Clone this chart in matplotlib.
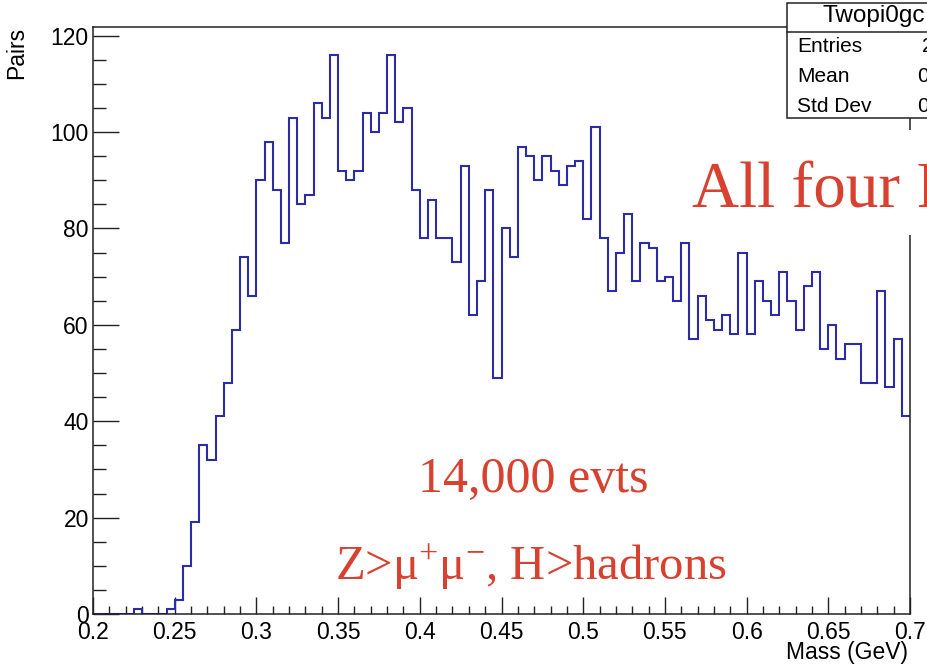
import numpy as np
import matplotlib
matplotlib.use("Agg")
import matplotlib.pyplot as plt
from matplotlib.patches import Rectangle
from matplotlib.lines import Line2D
from matplotlib.ticker import MultipleLocator

plt.rcParams['font.family'] = ['Liberation Sans', 'DejaVu Sans']
plt.rcParams['mathtext.fontset'] = 'custom'
plt.rcParams['mathtext.rm'] = 'Liberation Serif'
plt.rcParams['mathtext.default'] = 'regular'

# ---- data ----
mass_min, mass_max = 0.2, 0.7
pair_counts = [0, 0, 0, 0, 0, 1, 0, 0, 0, 1,
               3, 10, 19, 35, 32, 41, 48, 59, 74, 66,
               90, 98, 88, 77, 103, 85, 87, 106, 103, 116,
               92, 90, 92, 104, 100, 104, 116, 102, 105, 88,
               78, 86, 78, 78, 73, 93, 62, 69, 88, 49,
               80, 74, 97, 95, 90, 95, 92, 89, 93, 94,
               82, 101, 78, 67, 75, 83, 69, 77, 76, 69,
               70, 65, 77, 57, 66, 61, 59, 62, 58, 75,
               58, 69, 65, 62, 71, 65, 59, 68, 71, 55,
               60, 53, 56, 56, 48, 48, 67, 47, 57, 41]
x_ticks = [0.2, 0.25, 0.3, 0.35, 0.4, 0.45, 0.5, 0.55, 0.6, 0.65, 0.7]
x_tick_labels = ['0.2', '0.25', '0.3', '0.35', '0.4', '0.45', '0.5', '0.55', '0.6', '0.65', '0.7']
y_ticks = [0, 20, 40, 60, 80, 100, 120]
stat_names = ['Entries', 'Mean', 'Std Dev']
stat_values = ['2', '0.', '0.']

W, H = 928, 667
fig = plt.figure(figsize=(W / 100, H / 100), dpi=100)
fig.patch.set_facecolor('white')

def fx(px):
    return px / W

def fy(py):
    return 1 - py / H

ax_l, ax_r, ax_t, ax_b = 93, 910, 27, 614
ax = fig.add_axes([fx(ax_l), fy(ax_b), fx(ax_r) - fx(ax_l), fy(ax_t) - fy(ax_b)])

edges = np.linspace(mass_min, mass_max, len(pair_counts) + 1)
ax.stairs(pair_counts, edges, color='#2c2ca6', linewidth=1.5, baseline=None, zorder=2)

ax.set_xlim(mass_min, mass_max)
ax.set_ylim(0, max(pair_counts) * 1.05)
ax.set_xticks(x_ticks)
ax.set_xticklabels(x_tick_labels)
ax.set_yticks(y_ticks)
ax.xaxis.set_minor_locator(MultipleLocator(0.01))
ax.yaxis.set_minor_locator(MultipleLocator(5))

ax.tick_params(axis='x', which='major', direction='in', length=12.2, width=1.0, pad=5,
               labelsize=16.5, color='#222222')
ax.tick_params(axis='x', which='minor', direction='in', length=5.8, width=1.0, color='#222222')
ax.tick_params(axis='y', which='major', direction='in', length=18.7, width=1.0, pad=3,
               labelsize=16.5, color='#222222')
ax.tick_params(axis='y', which='minor', direction='in', length=9.4, width=1.0, color='#222222')
for s in ax.spines.values():
    s.set_linewidth(1.1)
    s.set_color('#222222')

# axis titles
fig.text(fx(908), fy(652), 'Mass (GeV)', ha='right', va='center', fontsize=16.5)
fig.text(fx(17), fy(27), 'Pairs', ha='center', va='top', rotation=90, fontsize=16.5)

# stats box
bx0, by0, by1, bsep = 786.7, 2.7, 118, 32
fig.patches.append(Rectangle((fx(bx0), fy(by1)), 1.2, fy(by0) - fy(by1), transform=fig.transFigure,
                             facecolor='white', edgecolor='#222222', linewidth=1.1, zorder=5))
fig.lines.append(Line2D([fx(bx0), 1.2], [fy(bsep), fy(bsep)], transform=fig.transFigure,
                        color='#222222', linewidth=1.1, zorder=6))
fig.text(fx(823), fy(16), 'Twopi0gc', ha='left', va='center', fontsize=17.5, zorder=7)
for i, (n, v) in enumerate(zip(stat_names, stat_values)):
    yy = [47, 77, 106][i]
    fig.text(fx(797), fy(yy), n, ha='left', va='center', fontsize=15, zorder=7)
    fig.text(fx(922 if i == 0 else 917), fy(yy), v, ha='left', va='center', fontsize=15, zorder=7)

red = '#d8412f'
# white panel behind the big label (hides the frame there)
fig.patches.append(Rectangle((fx(688), fy(235)), 1.0, fy(130) - fy(235), transform=fig.transFigure,
                             facecolor='white', edgecolor='none', zorder=6))
fig.text(fx(692), fy(208), 'All four Photons', ha='left', va='baseline', fontsize=47,
         family='Liberation Serif', color=red, zorder=7)
fig.text(fx(418), fy(492), '14,000 evts', ha='left', va='baseline', fontsize=36,
         family='Liberation Serif', color=red, zorder=7)
fig.text(fx(335), fy(580), r'Z>μ$^{+}$μ$^{-}$, H>hadrons', ha='left', va='baseline', fontsize=35,
         family='Liberation Serif', color=red, zorder=7)

fig.savefig('out.png', dpi=100)
